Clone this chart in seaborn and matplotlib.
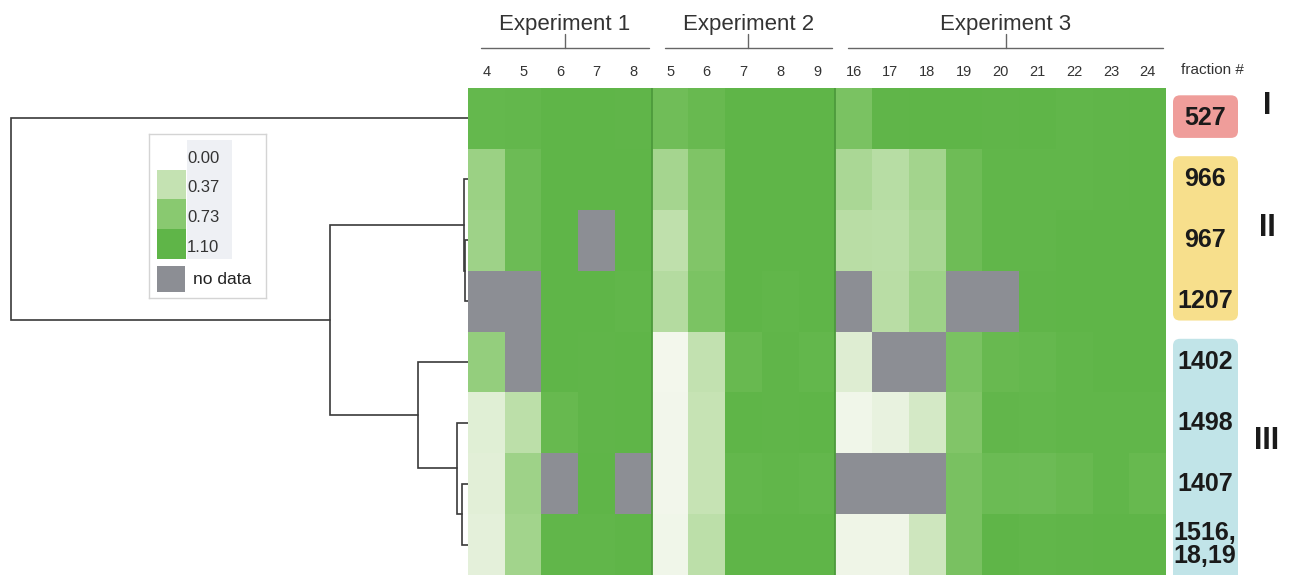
import numpy as np
import seaborn as sns
import matplotlib.pyplot as plt
from matplotlib.colors import LinearSegmentedColormap, Normalize
from matplotlib.patches import Rectangle, FancyBboxPatch

sns.set_style('white')
plt.rcParams['font.family'] = ['Liberation Sans', 'DejaVu Sans']

nan = np.nan

# fractions per experiment
exp_names = ['Experiment 1', 'Experiment 2', 'Experiment 3']
exp1_fractions = [4, 5, 6, 7, 8]
exp2_fractions = [5, 6, 7, 8, 9]
exp3_fractions = [16, 17, 18, 19, 20, 21, 22, 23, 24]

# row labels (top to bottom) and groups
row_labels = ['527', '966', '967', '1207', '1402', '1498', '1407', '1516,\n18,19']
group_names = ['I', 'II', 'III']
group_rows = [(0, 1), (1, 4), (4, 8)]
group_colors = ['#ef9d9a', '#f7df8c', '#c1e4e8']

# values, 19 columns: exp1 | exp2 | exp3 (nan = no data)
row_527 = [1.05, 1.06, 1.10, 1.10, 1.09, 0.95, 1.02, 1.10, 1.10, 1.10,
           0.86, 1.09, 1.10, 1.10, 1.09, 1.10, 1.08, 1.09, 1.10]
row_966 = [0.62, 0.98, 1.10, 1.10, 1.10, 0.56, 0.82, 1.10, 1.10, 1.10,
           0.53, 0.45, 0.57, 0.97, 1.08, 1.08, 1.08, 1.09, 1.10]
row_967 = [0.60, 0.98, 1.10, nan, 1.10, 0.40, 0.80, 1.10, 1.10, 1.10,
           0.44, 0.43, 0.54, 0.97, 1.08, 1.08, 1.10, 1.10, 1.10]
row_1207 = [nan, nan, 1.10, 1.10, 1.08, 0.47, 0.85, 1.10, 1.08, 1.10,
            nan, 0.44, 0.60, nan, nan, 1.09, 1.10, 1.10, 1.10]
row_1402 = [0.66, nan, 1.10, 1.09, 1.10, 0.02, 0.38, 1.02, 1.09, 1.06,
            0.18, nan, nan, 0.86, 1.02, 1.04, 1.08, 1.10, 1.10]
row_1498 = [0.16, 0.42, 1.03, 1.09, 1.10, 0.03, 0.36, 1.10, 1.09, 1.10,
            0.04, 0.10, 0.25, 0.80, 1.07, 1.06, 1.08, 1.08, 1.08]
row_1407 = [0.15, 0.60, nan, 1.10, nan, 0.03, 0.36, 1.06, 1.08, 1.06,
            nan, nan, nan, 0.87, 0.99, 0.98, 1.02, 1.08, 1.03]
row_1516 = [0.13, 0.58, 1.08, 1.08, 1.10, 0.04, 0.42, 1.10, 1.10, 1.10,
            0.05, 0.05, 0.30, 0.87, 1.10, 1.08, 1.09, 1.10, 1.10]

# dendrogram merges: (node a, node b, distance), leaves are rows 0..7
merges = [(2, 3, 0.007), (1, 8, 0.009), (6, 7, 0.013), (5, 10, 0.024),
          (4, 11, 0.109), (9, 12, 0.302), (0, 13, 1.0)]

legend_ticks = [0.00, 0.37, 0.73, 1.10]

values = np.array([row_527, row_966, row_967, row_1207,
                   row_1402, row_1498, row_1407, row_1516])
fractions = exp1_fractions + exp2_fractions + exp3_fractions
exp_sizes = [len(exp1_fractions), len(exp2_fractions), len(exp3_fractions)]

cmap = LinearSegmentedColormap.from_list(
    'grn', [(0, '#f5f8ef'), (0.37 / 1.1, '#c4e2b2'), (0.73 / 1.1, '#89c970'), (1, '#5fb548')])
norm = Normalize(0, 1.1)
nodata = '#8c8e94'

W, H = 1300, 575
fig = plt.figure(figsize=(13, 5.75), dpi=100)
hm_left, hm_right, hm_top = 468, 1166, 88

# heatmap
ax = fig.add_axes([hm_left / W, 0, (hm_right - hm_left) / W, (H - hm_top) / H])
ax.set_facecolor(nodata)
sns.heatmap(values, ax=ax, cmap=cmap, vmin=0, vmax=1.1, cbar=False,
            xticklabels=fractions, yticklabels=False, linewidths=0)
ax.xaxis.tick_top()
ax.tick_params(axis='x', length=0, pad=6.5, labelsize=10.5, labelcolor='#333333', rotation=0)
ax.tick_params(axis='y', length=0)
for b in np.cumsum(exp_sizes)[:-1]:
    ax.axvline(b, color='#4d9a3c', lw=1.3)

# experiment brackets
trans = ax.get_xaxis_transform()
start = 0
for name, n in zip(exp_names, exp_sizes):
    x0, x1 = start + 0.35, start + n - 0.08
    xm = (x0 + x1) / 2
    ax.plot([x0, x1], [1.082, 1.082], transform=trans, clip_on=False, color='#666666', lw=1)
    ax.plot([xm, xm], [1.082, 1.11], transform=trans, clip_on=False, color='#666666', lw=1)
    ax.text(xm, 1.13, name, transform=trans, ha='center', va='center',
            fontsize=16, color='#333333')
    start += n

fig.text(1212 / W, 1 - 70 / H, 'fraction #', ha='center', va='center', fontsize=11, color='#333333')

# dendrogram
dax = fig.add_axes([0, 0, hm_left / W, (H - hm_top) / H])
dax.set_ylim(len(row_labels), 0)
dax.set_xlim(1.024, 0)
dax.axis('off')
pos = {i: i + 0.5 for i in range(len(row_labels))}
hgt = {i: 0.0 for i in range(len(row_labels))}
for k, (a, b, d) in enumerate(merges):
    node = len(row_labels) + k
    dax.plot([hgt[a], d, d, hgt[b]], [pos[a], pos[a], pos[b], pos[b]],
             color='#3a3a3a', lw=1.2, solid_joinstyle='miter')
    pos[node] = (pos[a] + pos[b]) / 2
    hgt[node] = d

# right side labels
rax = fig.add_axes([hm_right / W, 0, (W - hm_right) / W, (H - hm_top) / H])
rax.set_xlim(hm_right, W)
rax.set_ylim(len(row_labels), 0)
rax.axis('off')
for g, (r0, r1), c in zip(group_names, group_rows, group_colors):
    h = (r1 - r0) - 0.3
    if r1 == len(row_labels):
        h += 0.4
    box = FancyBboxPatch((1173, r0 + 0.12), 65, h,
                         boxstyle='round,pad=0,rounding_size=7',
                         mutation_aspect=1 / 60.9, fc=c, ec='none')
    rax.add_patch(box)
    rax.text(1267, (r0 + r1) / 2 - 0.2, g, ha='center', va='center',
             fontsize=22, fontweight='bold', color='#1a1a1a')
for i, lab in enumerate(row_labels):
    rax.text(1205, i + 0.5, lab, ha='center', va='center', fontsize=18,
             fontweight='bold', color='#1a1a1a', linespacing=0.95)

# legend
lax = fig.add_axes([149 / W, 1 - 298 / H, 117 / W, 164 / H])
lax.set_xlim(0, 117)
lax.set_ylim(164, 0)
lax.set_xticks([])
lax.set_yticks([])
for s in lax.spines.values():
    s.set_color('#d4d4d4')
    s.set_linewidth(1)
lax.add_patch(Rectangle((38, 6), 45, 119, fc='#eef0f4', ec='none'))
for i, v in enumerate(legend_ticks):
    y = 24 + i * 29.7
    if i > 0:
        lax.add_patch(Rectangle((8, y - 18), 29, 29.7, fc=cmap(norm(v)), ec='none'))
    lax.text(38, y, f'{v:.2f}', ha='left', va='center', fontsize=12, color='#333333')
lax.add_patch(Rectangle((8, 132), 28, 26, fc=nodata, ec='none'))
lax.text(44, 145, 'no data', ha='left', va='center', fontsize=12.5, color='#222222')

fig.savefig('out.png', dpi=100)
